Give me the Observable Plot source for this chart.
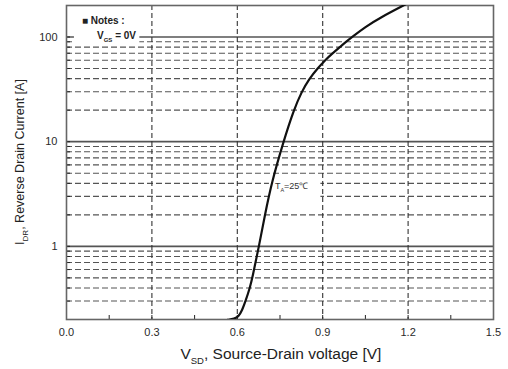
<!DOCTYPE html>
<html><head><meta charset="utf-8">
<script src="https://cdn.jsdelivr.net/npm/d3@7"></script>
<script src="https://cdn.jsdelivr.net/npm/@observablehq/plot@0.6"></script>
<style>
body{margin:0;background:#fff}
svg{font-family:"Liberation Sans",Arial,sans-serif}
</style>
</head><body><div id="chart"></div>
<script>
// Curve: source-drain voltage [V] vs reverse drain current [A]
const vsd = [0.565, 0.59, 0.605, 0.617, 0.629, 0.644, 0.653, 0.676, 0.698, 0.72, 0.762, 0.798, 0.826, 0.853, 0.882, 0.908, 0.935, 0.96, 0.982, 1.003, 1.05, 1.10, 1.19];
const idr = [0.198, 0.203, 0.215, 0.245, 0.3, 0.4, 0.5, 1.0, 2.06, 4.0, 10, 20, 30, 40, 50, 60, 70, 80, 90, 100, 125, 152, 204];

const xTicks = [0, 0.3, 0.6, 0.9, 1.2, 1.5];
const xTickLabels = ["0.0", "0.3", "0.6", "0.9", "1.2", "1.5"];
const xGrid = [0.3, 0.6, 0.9, 1.2];
const xMinor = [0.15, 0.3, 0.45, 0.6, 0.75, 0.9, 1.05, 1.2, 1.35];
const yMajor = [1, 10, 100];
const yTickLabels = ["1", "10", "100"];
const yMinor = [0.2, 0.3, 0.4, 0.5, 0.6, 0.7, 0.8, 0.9, 2, 3, 4, 5, 6, 7, 8, 9, 20, 30, 40, 50, 60, 70, 80, 90, 200];
const xDomain = [0, 1.5];
const yDomain = [0.2, 200];

// annotation anchors (data units)
const notesTitle = {x: 0.056, y: 131, text: "■ Notes :"};
const notesVgs = {x: 0.109, y: 95, main: "V", sub: "GS", rest: " = 0V"};
const tempLabel = {x: 0.734, y: 3.5, main: "T", sub: "A", rest: "=25℃"};
const xLabel = {main: "V", sub: "SD", rest: ", Source-Drain voltage [V]"};
const yLabel = {main: "I", sub: "DR", rest: ", Reverse Drain Current [A]"};

const curve = vsd.map((v, i) => ({v, i: idr[i]}));

const W = 508, H = 369, ML = 66, MR = 15, MT = 5, MB = 50;
const plot = Plot.plot({
  width: W, height: H,
  marginLeft: ML, marginRight: MR, marginTop: MT, marginBottom: MB,
  x: {domain: xDomain},
  y: {type: "log", domain: yDomain},
  style: {fontFamily: '"Liberation Sans", Arial, sans-serif', fontSize: "11px", color: "#2a2a2a", background: "#fff"},
  marks: [
    Plot.ruleY(yMinor, {stroke: "#555", strokeDasharray: "6,3", strokeWidth: 1.1}),
    Plot.ruleY(yMajor, {stroke: "#555", strokeWidth: 1.6}),
    Plot.ruleX(xGrid, {stroke: "#333", strokeDasharray: "5,3", strokeWidth: 1.1}),
    Plot.tickY([...yMinor, ...yMajor], {stroke: "#222", insetRight: W - ML - MR - 4}),
    Plot.tickX(xMinor, {stroke: "#222", insetTop: H - MT - MB - 4}),
    Plot.axisX({ticks: xTicks, tickFormat: d => xTickLabels[xTicks.indexOf(d)], tickSize: 0, tickPadding: 9, label: null}),
    Plot.axisY({ticks: yMajor, tickFormat: d => yTickLabels[yMajor.indexOf(d)], tickSize: 0, tickPadding: 9, label: null}),
    Plot.frame({stroke: "#666", strokeWidth: 1.6}),
    Plot.line(curve, {x: "v", y: "i", curve: "basis", stroke: "#111", strokeWidth: 2.2, clip: true})
  ]
});
document.getElementById("chart").append(plot);

const svg = d3.select(plot);
const sx = plot.scale("x"), sy = plot.scale("y");
const lineG = svg.select('g[aria-label="line"]').node();
const annLayer = svg.insert("g", () => lineG).attr("text-anchor", "start");
const boxLayer = annLayer.append("g");
const textLayer = annLayer.append("g");

function subText(sel, o, size, subSize) {
  sel.append("tspan").text(o.main);
  sel.append("tspan").attr("font-size", subSize).attr("dy", size * 0.3).text(o.sub);
  sel.append("tspan").attr("dy", -size * 0.3).text(o.rest);
  return sel;
}

// Notes
const n1 = textLayer.append("text").attr("x", sx.apply(notesTitle.x)).attr("y", sy.apply(notesTitle.y))
  .attr("font-size", 10).attr("font-weight", "bold").attr("fill", "#222").text(notesTitle.text);
const n2 = subText(textLayer.append("text").attr("x", sx.apply(notesVgs.x)).attr("y", sy.apply(notesVgs.y))
  .attr("font-size", 10).attr("font-weight", "bold").attr("fill", "#222"), notesVgs, 10, 6);
const t1 = subText(textLayer.append("text").attr("x", sx.apply(tempLabel.x)).attr("y", sy.apply(tempLabel.y))
  .attr("font-size", 9).attr("fill", "#333"), tempLabel, 9, 5.5);

function boxFor(nodes, pl, pr, py) {
  const bs = nodes.map(n => n.node().getBBox());
  const x0 = d3.min(bs, b => b.x) - pl, x1 = d3.max(bs, b => b.x + b.width) + pr;
  const y0 = d3.min(bs, b => b.y) - py, y1 = d3.max(bs, b => b.y + b.height) + py;
  boxLayer.append("rect").attr("x", x0).attr("y", y0).attr("width", x1 - x0).attr("height", y1 - y0).attr("fill", "#fff");
}
boxFor([n1, n2], 8, 3, 1);
boxFor([t1], 6, 12, 5);

// Axis titles
subText(svg.append("text").attr("x", sx.apply(0.755)).attr("y", 359).attr("text-anchor", "middle")
  .attr("font-size", 15.5).attr("fill", "#222"), xLabel, 15.5, 9.5);
subText(svg.append("text").attr("transform", `translate(24,162) rotate(-90)`).attr("text-anchor", "middle")
  .attr("font-size", 12.5).attr("fill", "#222"), yLabel, 12.5, 8);
</script>
</body></html>
